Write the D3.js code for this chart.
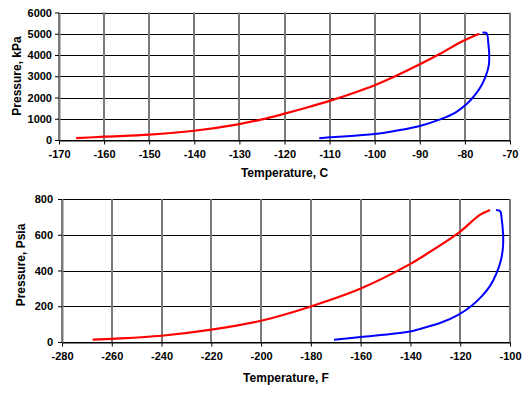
<!DOCTYPE html>
<meta charset="utf-8">
<title>Phase envelope</title>
<style>
body { margin:0; background:#fff; }
text { font-family: "Liberation Sans", Arial, sans-serif; font-weight: bold; fill:#000; }
.title { font-size: 12px; }
</style>
<svg width="525" height="393"></svg>
<script src="https://d3js.org/d3.v7.min.js"></script>
<script>
// metric chart: temperature C, pressure kPa
var bubbleC = [[-166.2,85],[-160,155],[-150,250],[-140,436],[-130,750],[-125,970],[-120,1240],
               [-115,1530],[-110,1843],[-105,2190],[-100,2578],[-95,3047],[-90,3563],
               [-85.5,4060],[-81.1,4590],[-78.5,4850],[-76.8,5000]];
var dewC = [[-112.3,80],[-110,125],[-100,280],[-94.4,469],[-90,656],[-85.5,970],[-82.2,1280],
            [-79.6,1690],[-77.8,2110],[-76.3,2580],[-75.3,3050],[-74.7,3520],[-74.6,3985],
            [-74.8,4530],[-75.2,5030],[-76.1,5050]];
var xTicksC = [-170,-160,-150,-140,-130,-120,-110,-100,-90,-80,-70];
var yTicksC = [0,1000,2000,3000,4000,5000,6000];

// field units chart: temperature F, pressure psia
var bubbleF = [[-267.7,13],[-260,18],[-240,35],[-220,69],[-200,119],[-180,199],[-160,299],
               [-140,437],[-136.2,469],[-120.8,609],[-112.1,711],[-108,739]];
var dewF = [[-170.7,13],[-160,28],[-140,59],[-136.2,73],[-128.1,106],[-120.8,152],[-115.4,203],
            [-111.4,255],[-108,314],[-105.4,385],[-103.6,460],[-102.8,534],[-102.8,609],
            [-103.3,683],[-104,733],[-105.6,739]];
var xTicksF = [-280,-260,-240,-220,-200,-180,-160,-140,-120,-100];
var yTicksF = [0,200,400,600,800];

var svg = d3.select("svg");

function chart(o) {
  var x = d3.scaleLinear().domain(o.xd).range([o.left, o.right]);
  var y = d3.scaleLinear().domain(o.yd).range([o.bottom, o.top]);
  var g = svg.append("g");
  var fmt = function(d) { return String(d); };

  // gridlines
  g.selectAll(".hg").data(o.yt).enter().append("line")
    .attr("x1", o.left).attr("x2", o.right)
    .attr("y1", function(d){ return Math.round(y(d)) + 0.5; })
    .attr("y2", function(d){ return Math.round(y(d)) + 0.5; })
    .style("stroke", "#000").style("stroke-width", 1);
  g.selectAll(".vg").data(o.xt).enter().append("line")
    .attr("x1", function(d){ return Math.round(x(d)); })
    .attr("x2", function(d){ return Math.round(x(d)); })
    .attr("y1", o.top).attr("y2", o.bottom)
    .style("stroke", "#7a7a7a").style("stroke-width", 2);

  // axes
  var ax = g.append("g").attr("transform", "translate(0," + (Math.round(o.bottom) + 0.5) + ")")
    .call(d3.axisBottom(x).tickValues(o.xt).tickFormat(fmt).tickSize(4).tickPadding(6).tickSizeOuter(0));
  ax.select(".domain").style("stroke", "#000");
  ax.selectAll(".tick line").style("stroke", "#000");
  var ay = g.append("g").attr("transform", "translate(" + Math.round(o.left) + ",0)")
    .call(d3.axisLeft(y).tickValues(o.yt).tickFormat(fmt).tickSize(4).tickPadding(o.ypad).tickSizeOuter(0));
  ay.select(".domain").style("stroke", "#7a7a7a").style("stroke-width", 2);
  ay.selectAll(".tick line").style("stroke", "#000");
  g.selectAll(".tick text").style("font-size", "11px").style("font-family", null);

  var line = d3.line().x(function(d){ return x(d[0]); }).y(function(d){ return y(d[1]); })
    .curve(d3.curveCatmullRom);
  g.append("path").datum(o.bubble).attr("d", line)
    .style("fill", "none").style("stroke", "#ff0000").style("stroke-width", 2.2);
  g.append("path").datum(o.dew).attr("d", line)
    .style("fill", "none").style("stroke", "#0000ff").style("stroke-width", 2);

  g.append("text").attr("class", "title").attr("text-anchor", "middle")
    .attr("x", (o.left + o.right) / 2).attr("y", o.xty).text(o.xtitle);
  g.append("text").attr("class", "title").attr("text-anchor", "middle")
    .attr("transform", "translate(" + o.ytx + "," + o.ytc + ") rotate(-90)").text(o.ytitle);
}

chart({ xd:[-170,-70], yd:[0,6000], left:59, right:510, top:12.5, bottom:140,
        xt:xTicksC, yt:yTicksC, bubble:bubbleC, dew:dewC, ypad:3,
        xtitle:"Temperature, C", ytitle:"Pressure, kPa", xty:177, ytx:21, ytc:76 });
chart({ xd:[-280,-100], yd:[0,800], left:62, right:510, top:199, bottom:342,
        xt:xTicksF, yt:yTicksF, bubble:bubbleF, dew:dewF, ypad:5,
        xtitle:"Temperature, F", ytitle:"Pressure, Psia", xty:382, ytx:25, ytc:265 });
</script>
